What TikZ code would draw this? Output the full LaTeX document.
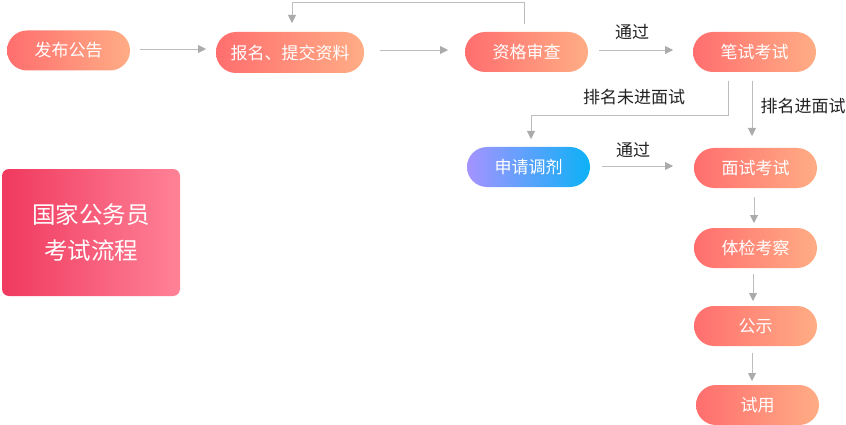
\documentclass[tikz,border=0pt]{standalone}
\usepackage{fontspec}
\setmainfont{Noto Sans CJK SC}
\usetikzlibrary{arrows.meta}
\definecolor{oL}{HTML}{FF6E6E}
\definecolor{oR}{HTML}{FFAD85}
\definecolor{bL}{HTML}{A593FF}
\definecolor{bR}{HTML}{0DB1F7}
\definecolor{rL}{HTML}{F0395F}
\definecolor{rR}{HTML}{FF8296}
\definecolor{ln}{HTML}{BDBDBD}
\definecolor{tip}{HTML}{ABABAB}
\definecolor{txt}{HTML}{222222}
\tikzset{
  pill/.style={rectangle, rounded corners=20pt, minimum width=123pt, minimum height=40pt,
    left color=oL, right color=oR, draw=none, text=white, font=\fontsize{17}{19}\selectfont, inner sep=0pt},
  bluepill/.style={pill, left color=bL, right color=bR},
  conn/.style={draw=ln, line width=0.9pt, -{Triangle[width=8pt,length=8pt,fill=tip,color=tip]}},
  lbl/.style={font=\fontsize{17}{19}\selectfont, text=txt, inner sep=0pt}
}
\begin{document}
\begin{tikzpicture}[x=1pt,y=-1pt]
\useasboundingbox (0,0) rectangle (846,425);
\fill[white] (0,0) rectangle (846,425);
% nodes
\node[pill] (fb) at (68.5,50.5) {发布公告};
\node[pill, minimum width=148pt, minimum height=41pt] (bm) at (290,52.5) {报名、提交资料};
\node[pill] (zg) at (526.5,52) {资格审查};
\node[pill] (bs) at (754.5,52) {笔试考试};
\node[bluepill] (sq) at (528.5,167) {申请调剂};
\node[pill] (ms) at (755.5,168) {面试考试};
\node[pill] (tj) at (755.5,248) {体检考察};
\node[pill] (gs) at (755.5,326) {公示};
\node[pill] (sy) at (757.5,405) {试用};
\node[rectangle, rounded corners=7pt, minimum width=178pt, minimum height=127pt,
  left color=rL, right color=rR, draw=none, text=white, align=center,
  font=\fontsize{23.5}{36}\selectfont, inner sep=0pt] (title) at (91,232.5) {国家公务员\\考试流程};
% coordinates
\coordinate (a1s) at (140,49);
\coordinate (a1e) at (206,49);
\coordinate (a2s) at (380,50);
\coordinate (a2e) at (448,50);
\coordinate (fbS) at (524,24);
\coordinate (fb1) at (524,2.5);
\coordinate (fb2) at (292,2.5);
\coordinate (fbE) at (292,23);
\coordinate (a3s) at (599,50);
\coordinate (a3e) at (673,50);
\coordinate (vS) at (752,81);
\coordinate (vE) at (752,136);
\coordinate (uS) at (728,81);
\coordinate (u1) at (728,115);
\coordinate (u2) at (531,115);
\coordinate (uE) at (531,139);
\coordinate (a4s) at (602,166);
\coordinate (a4e) at (673,166);
\coordinate (d1s) at (754,197);
\coordinate (d1e) at (754,223);
\coordinate (d2s) at (753,274);
\coordinate (d2e) at (753,301);
\coordinate (d3s) at (752,353);
\coordinate (d3e) at (752,381);
% connectors
\draw[conn] (a1s) -- (a1e);
\draw[conn] (a2s) -- (a2e);
\draw[conn] (fbS) -- (fb1) -- (fb2) -- (fbE);
\draw[conn] (a3s) -- (a3e);
\draw[conn] (vS) -- (vE);
\draw[conn] (uS) -- (u1) -- (u2) -- (uE);
\draw[conn] (a4s) -- (a4e);
\draw[conn] (d1s) -- (d1e);
\draw[conn] (d2s) -- (d2e);
\draw[conn] (d3s) -- (d3e);
% labels
\node[lbl] (l1) at (632,32) {通过};
\node[lbl] (l2) at (634,97) {排名未进面试};
\node[lbl] (l3) at (803,106) {排名进面试};
\node[lbl] (l4) at (633,150) {通过};
\end{tikzpicture}
\end{document}
